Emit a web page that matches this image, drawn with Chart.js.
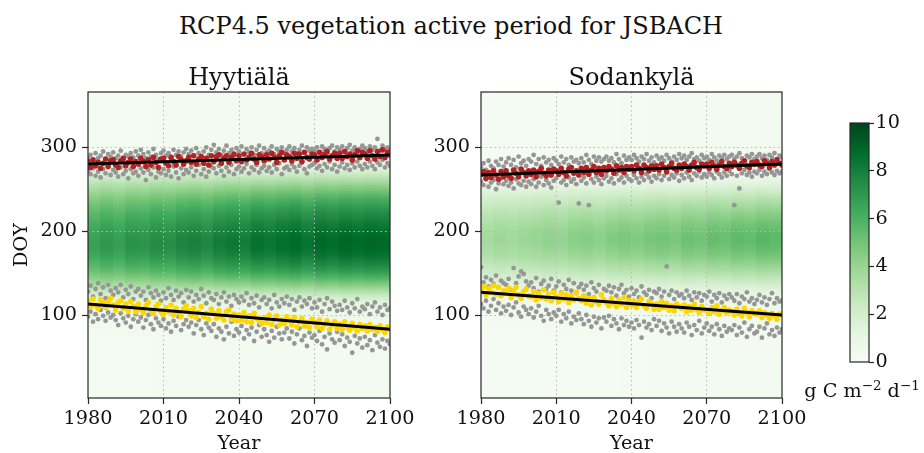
<!DOCTYPE html>
<html lang="en">
<head>
<meta charset="UTF-8">
<title>RCP4.5 vegetation active period for JSBACH</title>
<script src="https://cdn.jsdelivr.net/npm/chart.js"></script>
<style>
    body {
        margin: 0;
        background: #ffffff;
        font-family: 'DejaVu Serif', serif;
        color: #111;
    }
    #page {
        position: relative;
        width: 924px;
        height: 453px;
        overflow: hidden;
    }
    canvas {
        position: absolute;
    }
    #mainTitle {
        position: absolute;
        left: 0;
        top: 13.5px;
        width: 902px;
        text-align: center;
        font-size: 24px;
        line-height: 24px;
        white-space: nowrap;
    }
    #cbLabel {
        position: absolute;
        left: 802px;
        top: 381px;
        width: 120px;
        text-align: center;
        font-size: 19.2px;
        line-height: 19.2px;
        white-space: nowrap;
    }
    #cbLabel sup {
        font-size: 0.7em;
        vertical-align: 0.55em;
        line-height: 0;
    }
</style>
</head>
<body>
<div id="page">
    <div id="mainTitle">RCP4.5 vegetation active period for JSBACH</div>
    <canvas id="hyyChart" width="420" height="404" style="left:0px; top:50px;"></canvas>
    <canvas id="sodChart" width="420" height="404" style="left:390px; top:50px;"></canvas>
    <canvas id="cbChart" width="124" height="305" style="left:800px; top:100px;"></canvas>
    <div id="cbLabel">g C m<sup>−2</sup> d<sup>−1</sup></div>
</div>

<script>
    // ---- axes ----
    const firstYear = 1980;
    const yearTicks = [1980, 2010, 2040, 2070, 2100];
    const doyTicks = [100, 200, 300];
    const cbTicks = [0, 2, 4, 6, 8, 10];
    const trendYears = [1980, 2100];

    // heatmap: 5-year blocks x 5-day bands, values in g C m-2 d-1
    const blockYears = 5;
    const bandDays = 5;
    const firstDoy = 1;

    // ---- Hyytiälä ----
    const hyyProfile = [
        0.3, 0.3, 0.3, 0.3, 0.3, 0.3, 0.3, 0.3, 0.3, 0.3,
        0.3, 0.3, 0.3, 0.3, 0.35, 0.4, 0.45, 0.5, 0.6, 0.7,
        0.8, 1.0, 1.3, 1.8, 2.5, 3.3, 4.2, 5.0, 5.8, 6.5,
        7.1, 7.6, 8.0, 8.4, 8.7, 8.9, 9.0, 9.0, 8.9, 8.7,
        8.5, 8.3, 8.0, 7.7, 7.4, 7.0, 6.6, 6.1, 5.6, 5.0,
        4.4, 3.7, 3.0, 2.3, 1.6, 1.0, 0.7, 0.5, 0.4, 0.35,
        0.3, 0.3, 0.3, 0.3, 0.3, 0.3, 0.3, 0.3, 0.3, 0.3,
        0.3, 0.3, 0.3, 0.3
    ];
    const hyyFactors = [0.74, 0.78, 0.75, 0.8, 0.79, 0.83, 0.82, 0.86, 0.88, 0.85, 0.9, 0.92,
        0.9, 0.95, 0.93, 0.96, 0.98, 0.94, 0.99, 0.97, 1.0, 0.98, 1.0, 0.99];
    const hyyEndTrend = [280, 291];
    const hyyStartTrend = [113, 83];
    const hyyEndRed = [
        283, 276, 285, 278, 282, 275, 281, 286, 277, 284,
        285, 279, 276, 284, 287, 278, 282, 286, 277, 283,
        280, 287, 283, 277, 285, 279, 288, 282, 276, 286,
        287, 281, 278, 288, 283, 279, 289, 285, 280, 284,
        288, 282, 290, 280, 286, 289, 281, 287, 279, 290,
        283, 289, 291, 281, 287, 290, 282, 288, 292, 284,
        290, 283, 292, 285, 288, 293, 286, 282, 291, 289,
        284, 291, 286, 293, 288, 282, 290, 294, 285, 291,
        289, 284, 293, 287, 292, 283, 294, 288, 286, 292,
        291, 285, 294, 288, 292, 295, 286, 290, 293, 287,
        293, 287, 295, 289, 292, 285, 291, 296, 288, 294,
        292, 287, 296, 290, 286, 295, 289, 297, 288, 294,
        291
    ];
    const hyyEndGrayA = [
        288, 291, 284, 293, 287, 290, 295, 286, 292, 289,
        294, 287, 290, 296, 285, 291, 289, 293, 288, 295,
        290, 297, 292, 287, 294, 289, 298, 291, 286, 293,
        296, 290, 293, 288, 297, 291, 295, 289, 294, 298,
        292, 296, 290, 299, 293, 288, 295, 300, 291, 297,
        303, 294, 298, 291, 296, 302, 293, 297, 290, 299,
        295, 301, 292, 298, 294, 300, 291, 297, 302, 293,
        299, 294, 296, 301, 292, 298, 295, 300, 293, 297,
        301, 295, 299, 293, 297, 302, 294, 300, 296, 298,
        296, 300, 294, 301, 298, 293, 299, 302, 295, 300,
        297, 301, 295, 299, 303, 296, 300, 294, 298, 302,
        299, 295, 301, 297, 300, 310, 296, 302, 298, 300,
        297
    ];
    const hyyEndGrayB = [
        272, 268, 275, 266, 271, 264, 274, 269, 277, 267,
        273, 270, 265, 276, 268, 272, 263, 274, 269, 271,
        266, 275, 270, 261, 273, 268, 276, 264, 271, 269,
        274, 267, 272, 265, 277, 270, 263, 275, 268, 273,
        270, 276, 266, 272, 279, 268, 274, 265, 271, 277,
        275, 269, 278, 272, 266, 276, 271, 279, 268, 274,
        277, 271, 275, 280, 269, 276, 273, 279, 270, 275,
        278, 272, 276, 270, 279, 274, 281, 268, 275, 277,
        273, 280, 276, 271, 278, 282, 274, 269, 277, 279,
        281, 275, 278, 272, 280, 276, 283, 274, 279, 271,
        277, 282, 275, 279, 273, 281, 276, 283, 278, 274,
        280, 276, 283, 278, 274, 282, 279, 285, 276, 281,
        278
    ];
    const hyyStartYellow = [
        117, 110, 119, 112, 108, 118, 114, 109, 116, 120,
        112, 106, 115, 117, 108, 113, 105, 116, 110, 104,
        113, 107, 103, 111, 115, 105, 102, 110, 113, 104,
        101, 109, 104, 112, 100, 108, 103, 98, 107, 111,
        105, 99, 108, 97, 103, 110, 98, 102, 95, 107,
        102, 96, 105, 98, 94, 104, 106, 95, 101, 93,
        100, 94, 103, 92, 99, 91, 102, 96, 93, 90,
        97, 91, 100, 89, 95, 99, 88, 94, 90, 98,
        94, 88, 97, 86, 92, 96, 87, 91, 85, 95,
        91, 86, 94, 84, 89, 93, 83, 88, 92, 84,
        89, 83, 92, 86, 82, 90, 85, 81, 89, 84,
        87, 81, 89, 83, 85, 80, 87, 83, 79, 86,
        83
    ];
    const hyyStartGrayA = [
        128, 135, 122, 131, 138, 125, 133, 120, 136, 129,
        124, 132, 127, 136, 121, 130, 125, 134, 119, 128,
        131, 123, 128, 118, 133, 126, 121, 129, 124, 117,
        127, 120, 132, 124, 118, 129, 122, 126, 115, 130,
        121, 128, 116, 124, 119, 131, 123, 114, 127, 120,
        118, 125, 113, 121, 127, 116, 122, 111, 124, 119,
        115, 122, 117, 126, 112, 120, 114, 123, 109, 118,
        121, 113, 118, 108, 124, 115, 110, 119, 114, 122,
        112, 119, 106, 116, 121, 110, 117, 113, 120, 108,
        115, 109, 118, 104, 113, 120, 107, 116, 111, 105,
        112, 106, 117, 109, 103, 114, 108, 119, 104, 110,
        107, 113, 101, 110, 115, 104, 109, 100, 112, 106,
        108
    ];
    const hyyStartGrayB = [
        98, 104, 92, 101, 95, 106, 99, 93, 103, 97,
        100, 94, 88, 102, 96, 91, 99, 86, 95, 101,
        92, 97, 85, 94, 100, 89, 83, 96, 91, 87,
        95, 84, 90, 80, 93, 87, 98, 82, 89, 94,
        86, 91, 78, 88, 94, 83, 76, 90, 85, 81,
        89, 74, 84, 80, 71, 86, 78, 92, 75, 83,
        79, 87, 72, 82, 77, 85, 69, 80, 88, 74,
        83, 76, 68, 81, 73, 86, 78, 71, 79, 84,
        72, 80, 66, 77, 84, 70, 75, 63, 79, 73,
        76, 69, 81, 65, 74, 59, 78, 71, 67, 80,
        70, 77, 63, 73, 68, 55, 75, 66, 72, 61,
        74, 64, 70, 58, 76, 67, 62, 71, 60, 69,
        65
    ];

    // ---- Sodankylä ----
    const sodProfile = [
        0.3, 0.3, 0.3, 0.3, 0.3, 0.3, 0.3, 0.3, 0.3, 0.3,
        0.3, 0.3, 0.3, 0.3, 0.3, 0.35, 0.4, 0.45, 0.5, 0.55,
        0.6, 0.7, 0.8, 0.95, 1.1, 1.4, 1.8, 2.3, 2.8, 3.3,
        3.8, 4.2, 4.6, 5.0, 5.3, 5.5, 5.7, 5.8, 5.8, 5.7,
        5.5, 5.3, 5.0, 4.7, 4.4, 4.0, 3.6, 3.2, 2.7, 2.2,
        1.7, 1.3, 0.9, 0.65, 0.5, 0.4, 0.35, 0.3, 0.3, 0.3,
        0.3, 0.3, 0.3, 0.3, 0.3, 0.3, 0.3, 0.3, 0.3, 0.3,
        0.3, 0.3, 0.3, 0.3
    ];
    const sodFactors = [0.62, 0.66, 0.64, 0.67, 0.69, 0.72, 0.7, 0.75, 0.77, 0.74, 0.79, 0.82,
        0.8, 0.84, 0.86, 0.83, 0.89, 0.87, 0.92, 0.9, 0.95, 0.93, 0.98, 0.96];
    const sodEndTrend = [267, 280];
    const sodStartTrend = [127, 100];
    const sodEndRed = [
        268, 271, 263, 270, 264, 272, 267, 262, 271, 265,
        272, 266, 263, 273, 269, 265, 274, 270, 266, 272,
        268, 273, 265, 271, 275, 269, 266, 273, 267, 274,
        272, 268, 275, 270, 266, 274, 276, 269, 272, 267,
        275, 270, 276, 268, 273, 277, 270, 275, 268, 276,
        272, 277, 274, 269, 278, 273, 276, 270, 277, 274,
        277, 272, 279, 275, 270, 279, 276, 272, 278, 274,
        278, 273, 280, 276, 271, 277, 281, 275, 273, 279,
        275, 280, 277, 273, 279, 282, 276, 274, 280, 278,
        280, 275, 282, 278, 274, 279, 283, 277, 275, 281,
        277, 282, 279, 275, 281, 284, 278, 276, 282, 280,
        283, 279, 277, 284, 281, 276, 283, 279, 285, 281,
        279
    ];
    const sodEndGrayA = [
        276, 281, 273, 284, 278, 275, 283, 279, 286, 277,
        282, 287, 279, 285, 276, 289, 281, 284, 278, 286,
        283, 291, 280, 286, 278, 288, 282, 285, 279, 287,
        284, 280, 289, 282, 286, 279, 288, 283, 285, 281,
        287, 282, 291, 285, 280, 289, 284, 288, 283, 286,
        289, 284, 287, 282, 292, 286, 281, 290, 285, 288,
        285, 291, 287, 283, 289, 286, 292, 284, 288, 282,
        290, 286, 288, 284, 291, 287, 283, 289, 285, 292,
        287, 290, 285, 289, 293, 286, 288, 284, 291, 287,
        289, 285, 292, 288, 284, 290, 287, 291, 286, 289,
        291, 286, 289, 293, 287, 284, 290, 288, 292, 286,
        289, 292, 287, 290, 285, 291, 288, 293, 286, 290,
        288
    ];
    const sodEndGrayB = [
        259, 255, 262, 253, 258, 261, 250, 257, 263, 256,
        260, 254, 258, 251, 262, 257, 255, 260, 253, 259,
        256, 262, 253, 258, 265, 255, 261, 257, 252, 260,
        263, 234, 258, 261, 255, 264, 259, 262, 256, 233,
        260, 264, 257, 231, 262, 258, 265, 261, 256, 263,
        266, 259, 263, 257, 268, 261, 264, 258, 266, 262,
        260, 267, 263, 258, 265, 261, 268, 264, 259, 266,
        263, 268, 261, 266, 270, 262, 267, 264, 269, 260,
        267, 263, 270, 265, 261, 269, 266, 271, 264, 268,
        265, 270, 267, 263, 271, 268, 264, 270, 266, 272,
        268, 231, 266, 251, 269, 273, 267, 270, 265, 271,
        269, 273, 266, 271, 268, 274, 270, 267, 272, 269,
        271
    ];
    const sodStartYellow = [
        131, 134, 124, 132, 127, 135, 125, 133, 123, 129,
        126, 132, 121, 129, 133, 124, 120, 128, 131, 123,
        122, 128, 118, 126, 121, 130, 119, 125, 117, 127,
        122, 116, 126, 119, 124, 115, 123, 118, 127, 120,
        117, 123, 114, 120, 112, 121, 116, 113, 124, 118,
        115, 111, 120, 114, 110, 118, 113, 121, 109, 117,
        112, 117, 109, 115, 119, 111, 108, 116, 113, 107,
        113, 107, 116, 109, 114, 106, 111, 105, 113, 110,
        108, 112, 104, 110, 106, 113, 107, 103, 110, 106,
        106, 102, 109, 104, 111, 101, 105, 109, 103, 106,
        104, 100, 107, 102, 99, 108, 103, 98, 105, 102,
        101, 105, 97, 103, 100, 96, 102, 99, 95, 101,
        100
    ];
    const sodStartGrayA = [
        157, 139, 145, 134, 142, 137, 147, 133, 141, 138,
        136, 143, 130, 156, 138, 146, 152, 149, 140, 135,
        139, 132, 144, 128, 137, 141, 131, 135, 143, 129,
        134, 140, 127, 136, 131, 142, 129, 138, 126, 133,
        137, 130, 135, 125, 139, 132, 128, 136, 124, 131,
        129, 135, 127, 133, 123, 131, 136, 126, 130, 122,
        132, 125, 129, 121, 134, 127, 124, 130, 120, 128,
        126, 131, 122, 128, 158, 124, 129, 119, 127, 123,
        125, 120, 129, 123, 118, 127, 121, 126, 117, 124,
        122, 128, 116, 124, 120, 126, 115, 123, 119, 125,
        121, 117, 125, 114, 122, 119, 127, 116, 120, 113,
        118, 124, 115, 121, 112, 119, 126, 114, 120, 116,
        117
    ];
    const sodStartGrayB = [
        113, 108, 117, 104, 111, 119, 106, 114, 102, 110,
        105, 112, 100, 109, 115, 103, 98, 110, 106, 101,
        108, 97, 104, 111, 99, 93, 106, 101, 95, 103,
        99, 106, 92, 101, 96, 104, 90, 98, 94, 102,
        95, 89, 100, 93, 86, 98, 91, 96, 84, 97,
        92, 99, 87, 95, 90, 83, 96, 88, 93, 86,
        91, 84, 94, 88, 73, 92, 85, 89, 82, 95,
        87, 93, 81, 90, 85, 78, 92, 86, 80, 89,
        84, 79, 91, 86, 76, 88, 82, 93, 78, 85,
        90, 81, 86, 77, 89, 83, 75, 87, 80, 84,
        82, 88, 76, 85, 79, 91, 74, 83, 87, 78,
        80, 86, 73, 84, 90, 77, 82, 75, 85, 79,
        83
    ];

    // ---- styling ----
    const FONT = "'DejaVu Serif', serif";
    const TEXT = '#111111';
    const AXIS = '#262626';
    const GRID = '#b8b8b8';
    const GRAY = '#969696';
    const RED = '#b22222';
    const GOLD = '#ffd700';
    // matplotlib "Greens"
    const greens = [[247, 252, 245], [229, 245, 224], [199, 233, 192], [161, 217, 155],
        [116, 196, 118], [65, 171, 93], [35, 139, 69], [0, 109, 44], [0, 68, 27]];

    function greenAt(t) {
        t = Math.max(0, Math.min(1, t));
        const p = t * (greens.length - 1);
        const i = Math.min(greens.length - 2, Math.floor(p));
        const f = p - i;
        const a = greens[i], b = greens[i + 1];
        const c = a.map((v, k) => Math.round(v + (b[k] - v) * f));
        return `rgb(${c[0]},${c[1]},${c[2]})`;
    }

    function pts(arr) {
        return arr.map((v, i) => ({ x: firstYear + i, y: v }));
    }

    function trend(arr) {
        return arr.map((v, i) => ({ x: trendYears[i], y: v }));
    }

    function dots(arr, color, r) {
        return { data: pts(arr), backgroundColor: color, borderWidth: 0, pointRadius: r, pointHoverRadius: r };
    }

    function line(arr) {
        return { data: trend(arr), showLine: true, borderColor: '#000', borderWidth: 3, pointRadius: 0, fill: false };
    }

    function frame(chart) {
        const { ctx, chartArea: ca } = chart;
        ctx.save();
        ctx.strokeStyle = AXIS;
        ctx.lineWidth = 1.2;
        ctx.strokeRect(ca.left, ca.top, ca.right - ca.left, ca.bottom - ca.top);
        ctx.restore();
    }

    function makePanel(id, title, yAxisWidth, padRight, showDoy, d) {
        const heat = {
            id: 'heat',
            beforeDraw(chart) {
                const { ctx, chartArea: ca, scales: { x, y } } = chart;
                const yBottom = y.getPixelForValue(firstDoy);
                const yTop = y.getPixelForValue(firstDoy + d.profile.length * bandDays);
                ctx.save();
                ctx.beginPath();
                ctx.rect(ca.left, ca.top, ca.right - ca.left, ca.bottom - ca.top);
                ctx.clip();
                d.factors.forEach((f, j) => {
                    const x0 = Math.floor(x.getPixelForValue(firstYear + j * blockYears));
                    const x1 = Math.ceil(x.getPixelForValue(firstYear + (j + 1) * blockYears));
                    // smooth the 5-day bands vertically, like an interpolated image
                    const g = ctx.createLinearGradient(0, yBottom, 0, yTop);
                    d.profile.forEach((v, k) => {
                        g.addColorStop((k + 0.5) / d.profile.length, greenAt(v * f / 10));
                    });
                    ctx.fillStyle = g;
                    ctx.fillRect(x0, yTop, x1 - x0 + 1, yBottom - yTop);
                });
                ctx.restore();
            },
            afterDatasetsDraw(chart) {
                frame(chart);
            },
            afterDraw(chart) {
                const { ctx, chartArea: ca } = chart;
                ctx.save();
                ctx.fillStyle = TEXT;
                ctx.font = `24px ${FONT}`;
                ctx.textAlign = 'center';
                ctx.textBaseline = 'middle';
                ctx.fillText(title, (ca.left + ca.right) / 2, 28.75);
                ctx.restore();
            }
        };

        const tickFont = { family: FONT, size: 19.2 };
        const labelFont = { family: FONT, size: 19.2, lineHeight: 1 };

        return new Chart(document.getElementById(id), {
            type: 'scatter',
            data: {
                datasets: [
                    line(d.endTrend),
                    line(d.startTrend),
                    dots(d.red, RED, 2.8),
                    dots(d.yellow, GOLD, 2.8),
                    dots(d.endA, GRAY, 2.4),
                    dots(d.endB, GRAY, 2.4),
                    dots(d.startA, GRAY, 2.4),
                    dots(d.startB, GRAY, 2.4)
                ]
            },
            options: {
                responsive: false,
                animation: false,
                devicePixelRatio: 1,
                layout: { padding: { left: 0, right: padRight, top: 42, bottom: 0 } },
                plugins: {
                    legend: { display: false },
                    tooltip: { enabled: false },
                    title: { display: false }
                },
                scales: {
                    x: {
                        type: 'linear',
                        min: 1980,
                        max: 2100,
                        afterBuildTicks: s => { s.ticks = yearTicks.map(v => ({ value: v })); },
                        afterFit: s => { s.height = 56; },
                        grid: {
                            color: c => (c.tick && (c.tick.value === 1980 || c.tick.value === 2100)) ? 'rgba(0,0,0,0)' : GRID,
                            lineWidth: 1,
                            tickLength: 6,
                            tickColor: AXIS,
                            tickWidth: 1.2
                        },
                        border: { display: false, dash: [1.5, 3] },
                        ticks: {
                            color: TEXT, font: tickFont, padding: 3,
                            maxRotation: 0, autoSkip: false,
                            callback: v => String(v)
                        },
                        title: {
                            display: true, text: 'Year', color: TEXT, font: labelFont,
                            padding: { top: 0, bottom: 0 }
                        }
                    },
                    y: {
                        min: 1,
                        max: 366,
                        afterBuildTicks: s => { s.ticks = doyTicks.map(v => ({ value: v })); },
                        afterFit: s => { s.width = yAxisWidth; },
                        grid: {
                            color: GRID,
                            lineWidth: 1,
                            tickLength: 6,
                            tickColor: AXIS,
                            tickWidth: 1.2
                        },
                        border: { display: false, dash: [1.5, 3] },
                        ticks: { color: TEXT, font: tickFont, padding: 5, callback: v => String(v) },
                        title: {
                            display: showDoy, text: 'DOY', color: TEXT, font: labelFont,
                            padding: { top: 12, bottom: 0 }
                        }
                    }
                }
            },
            plugins: [heat]
        });
    }

    makePanel('hyyChart', 'Hyytiälä', 88, 30, true, {
        profile: hyyProfile, factors: hyyFactors,
        endTrend: hyyEndTrend, startTrend: hyyStartTrend,
        red: hyyEndRed, yellow: hyyStartYellow,
        endA: hyyEndGrayA, endB: hyyEndGrayB,
        startA: hyyStartGrayA, startB: hyyStartGrayB
    });

    makePanel('sodChart', 'Sodankylä', 91, 28, false, {
        profile: sodProfile, factors: sodFactors,
        endTrend: sodEndTrend, startTrend: sodStartTrend,
        red: sodEndRed, yellow: sodStartYellow,
        endA: sodEndGrayA, endB: sodEndGrayB,
        startA: sodStartGrayA, startB: sodStartGrayB
    });

    // colorbar
    const colorbarFill = {
        id: 'colorbarFill',
        beforeDatasetsDraw(chart) {
            const { ctx, chartArea: ca } = chart;
            const g = ctx.createLinearGradient(0, ca.bottom, 0, ca.top);
            greens.forEach((c, i) => g.addColorStop(i / (greens.length - 1), `rgb(${c[0]},${c[1]},${c[2]})`));
            ctx.save();
            ctx.fillStyle = g;
            ctx.fillRect(ca.left, ca.top, ca.right - ca.left, ca.bottom - ca.top);
            ctx.restore();
            frame(chart);
        }
    };

    new Chart(document.getElementById('cbChart'), {
        type: 'scatter',
        data: { datasets: [] },
        options: {
            responsive: false,
            animation: false,
            devicePixelRatio: 1,
            layout: { padding: { left: 50, top: 23, right: 0, bottom: 43 } },
            plugins: { legend: { display: false }, tooltip: { enabled: false } },
            scales: {
                x: { display: false, min: 0, max: 1 },
                y: {
                    position: 'right',
                    min: 0,
                    max: 10,
                    afterBuildTicks: s => { s.ticks = cbTicks.map(v => ({ value: v })); },
                    afterFit: s => { s.width = 55; },
                    grid: { drawOnChartArea: false, tickLength: 5, tickColor: AXIS, tickWidth: 1.2 },
                    border: { display: false },
                    ticks: { color: TEXT, font: { family: FONT, size: 19.2 }, padding: 1.5, callback: v => String(v) }
                }
            }
        },
        plugins: [colorbarFill]
    });
</script>
</body>
</html>
